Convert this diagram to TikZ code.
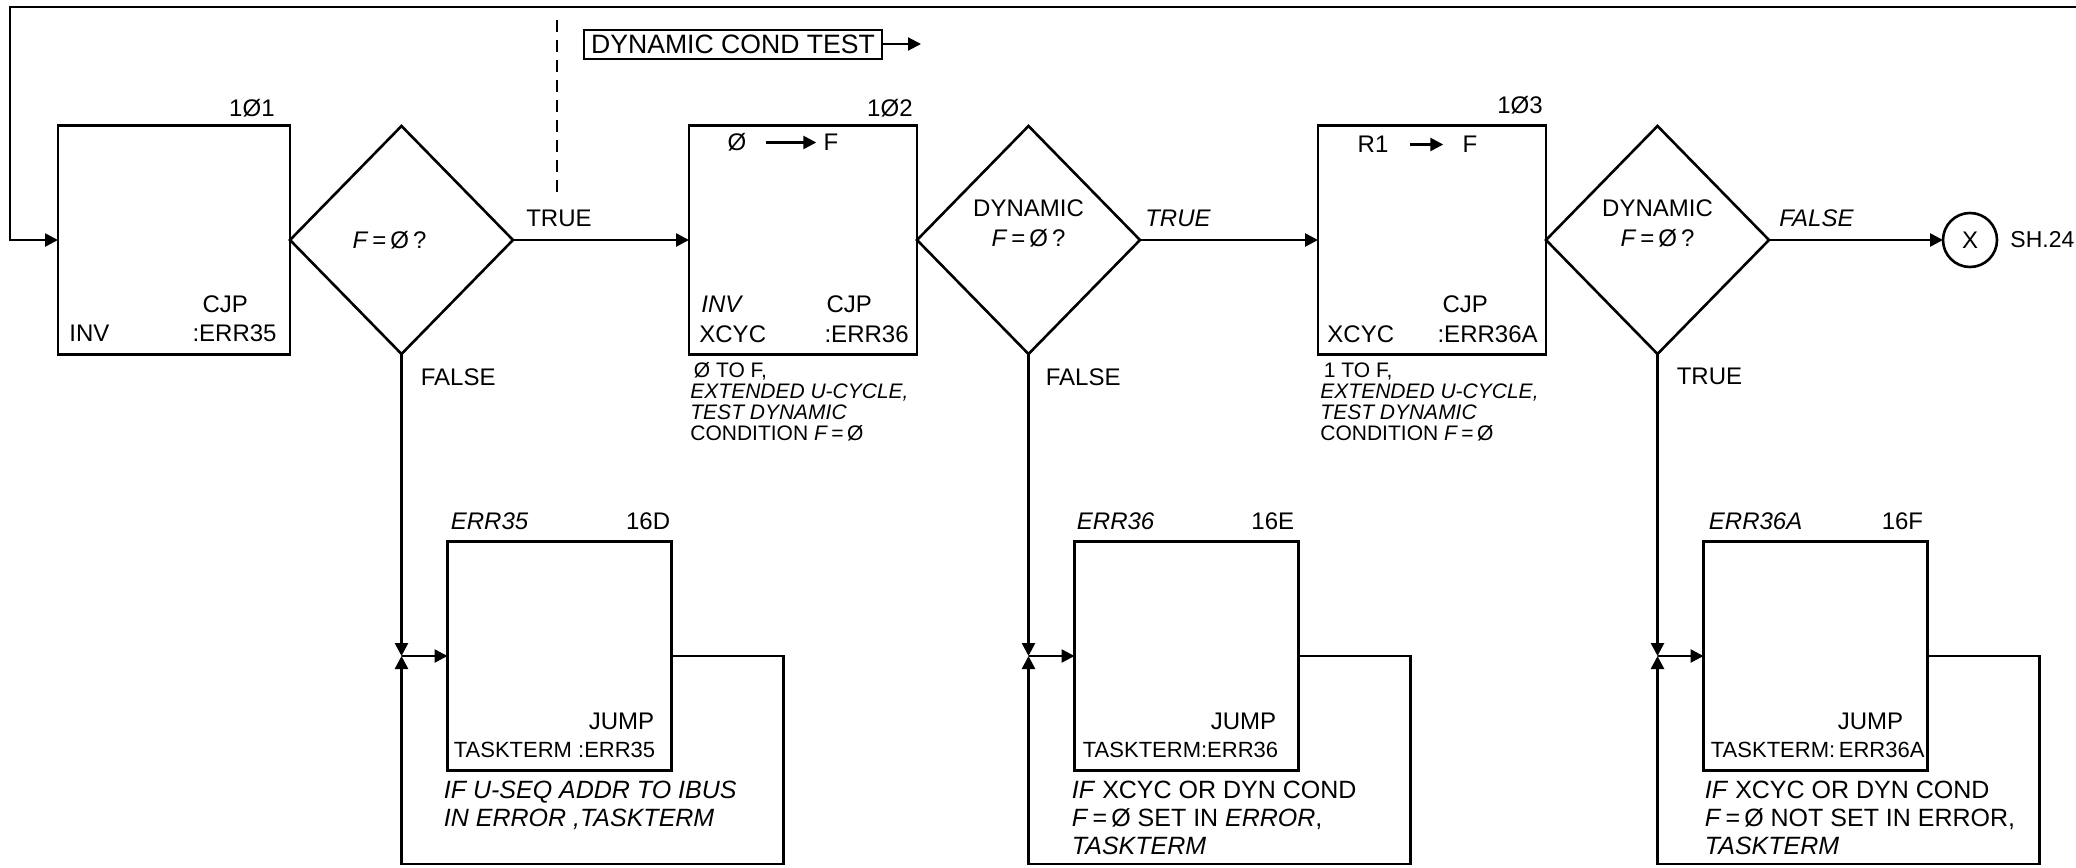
\documentclass[tikz,border=0pt]{standalone}
\usepackage{fontspec}
\setmainfont{Liberation Sans}
\usetikzlibrary{arrows.meta,positioning,calc,shapes.geometric}

\begin{document}
\begin{tikzpicture}[
  x=0.5pt, y=-0.5pt,
  font=\fontsize{12}{13}\selectfont,
  every node/.style={align=center},
  blk/.style={draw, line width=1.3pt, outer sep=0pt, inner sep=0pt,
              minimum width=114pt, minimum height=114.5pt},
  eblk/.style={blk, minimum width=112pt},
  dec/.style={diamond, draw, line width=1.3pt, outer sep=0pt, inner sep=0pt,
              minimum width=111.5pt, minimum height=114pt},
  txt/.style={inner sep=0pt},
  ttxt/.style={txt, font=\fontsize{11}{12}\selectfont},
  note/.style={txt, align=left, font=\fontsize{10.5}{10.5}\selectfont},
  enote/.style={txt, align=left, font=\fontsize{12.5}{14}\selectfont},
  arr/.style={-{Triangle[length=6.5pt, width=6.5pt]}, line width=1.3pt},
]
\useasboundingbox (0,0) rectangle (2076,867);

% main row
\node[blk, minimum width=116pt] (b101) at (174,240) {};
\node[dec, right=0pt of b101] (d1) {};
\node[blk, right=88pt of d1] (b102) {};
\node[dec, right=0pt of b102] (d2) {};
\node[blk, right=89pt of d2] (b103) {};
\node[dec, right=0pt of b103] (d3) {};
\node[circle, draw, line width=1.3pt, outer sep=0pt, inner sep=0pt, minimum size=27pt] (shx) at (1970,240) {X};
\node[txt, right=6.5pt of shx, font=\fontsize{11.5}{12}\selectfont] (sh) {SH.24};

% box 101
\node[txt, anchor=base east] at ($(b101.north east)+(-15,-9)$) {1Ø1};
\node[txt, anchor=base west] at ($(b101.south west)+(11,-13)$) {INV};
\node[txt, anchor=base east] (b101r) at ($(b101.south east)+(-13,-13)$) {:ERR35};
\node[txt, anchor=base west] at ($(b101r.base west)+(10,-29)$) {CJP};

% box 102
\node[txt, anchor=base east] at ($(b102.north east)+(-4,-9)$) {1Ø2};
\node[txt] (b102z) at ($(b102.north west)+(48,17)$) {Ø};
\node[txt] (b102f) at ($(b102.north west)+(142,17)$) {F};
\draw[arr, shorten <=9.5pt, shorten >=3.5pt] (b102z) -- (b102f);
\node[txt, anchor=base west] at ($(b102.south west)+(12,-42)$) {\textit{INV}};
\node[txt, anchor=base west] at ($(b102.south west)+(10,-12)$) {XCYC};
\node[txt, anchor=base east] (b102r) at ($(b102.south east)+(-8,-12)$) {:ERR36};
\node[txt, anchor=base west] at ($(b102r.base west)+(2,-30)$) {CJP};
\node[note, anchor=north west] at ($(b102.south west)+(1,8)$)
  {\,Ø TO F,\\\textit{EXTENDED U-CYCLE,}\\\textit{TEST DYNAMIC}\\CONDITION \textit{F}\,=\,Ø};

% box 103
\node[txt, anchor=base east] at ($(b103.north east)+(-3,-12)$) {1Ø3};
\node[txt] (b103r1) at ($(b103.north west)+(55,19)$) {R1};
\node[txt] (b103f) at ($(b103.north west)+(152,19)$) {F};
\draw[arr, shorten <=10.5pt, shorten >=9.5pt] (b103r1) -- (b103f);
\node[txt, anchor=base west] at ($(b103.south west)+(9,-12)$) {XCYC};
\node[txt, anchor=base east] (b103r) at ($(b103.south east)+(-8,-12)$) {:ERR36A};
\node[txt, anchor=base west] at ($(b103r.base west)+(5,-30)$) {CJP};
\node[note, anchor=north west] at ($(b103.south west)+(2,8)$)
  {\,1 TO F,\\\textit{EXTENDED U-CYCLE,}\\\textit{TEST DYNAMIC}\\CONDITION \textit{F}\,=\,Ø};

% decisions
\node[txt] (d1t) at ($(d1.center)+(-12,0)$) {\textit{F}\,=\,Ø\,?};
\node[txt] (d2t) at ($(d2.center)+(0,-17)$) {DYNAMIC\\[2pt]\textit{F}\,=\,Ø\,?};
\node[txt] (d3t) at ($(d3.center)+(0,-17)$) {DYNAMIC\\[2pt]\textit{F}\,=\,Ø\,?};

% top return path and dynamic test marker
\coordinate (tl) at (10,7);
\coordinate (tr) at (2076,7);
\draw[arr] (tr) -- (tl) |- (b101.west);
\node[draw, line width=1pt, inner xsep=3.5pt, inner ysep=0pt, minimum height=14.5pt,
      font=\fontsize{13.3}{14}\selectfont] (dct) at (733,44) {DYNAMIC COND TEST};
\coordinate (dcte) at (921,44);
\draw[arr, line width=1pt] (dct.east) -- (dcte);
\coordinate (dsh1) at (557,20);
\coordinate (dsh2) at (557,192);
\draw[line width=1pt, dash pattern=on 6pt off 4pt] (dsh1) -- (dsh2);

\draw[arr] (d1.east) -- (b102.west) node[txt, pos=0, above right=6pt and 6pt] {TRUE};
\draw[arr] (d2.east) -- (b103.west) node[txt, pos=0, above right=6pt and 2pt] {\textit{TRUE}};
\draw[arr] (d3.east) -- (shx.west) node[txt, pos=0, above right=6pt and 4.5pt] {\textit{FALSE}};

% error row
\coordinate (row2) at (0,656);
\coordinate (row3) at (0,864);
\coordinate (j1) at (d1.south |- row2);
\coordinate (j2) at (d2.south |- row2);
\coordinate (j3) at (d3.south |- row2);
\node[eblk, right=23pt of j1] (e35) {};
\node[eblk, right=23pt of j2] (e36) {};
\node[eblk, right=23pt of j3] (e36a) {};

\draw[arr] (d1.south) -- (j1) node[txt, pos=0, below right=6.5pt and 9pt] {FALSE};
\draw[arr] (j1) -- (e35.west);
\draw[arr] (e35.east) -- ++(56pt,0) |- (j1 |- row3) -- (j1);
\draw[arr] (d2.south) -- (j2) node[txt, pos=0, below right=6.5pt and 8pt] {FALSE};
\draw[arr] (j2) -- (e36.west);
\draw[arr] (e36.east) -- ++(56pt,0) |- (j2 |- row3) -- (j2);
\draw[arr] (d3.south) -- (j3) node[txt, pos=0, below right=6.5pt and 9pt] {TRUE};
\draw[arr] (j3) -- (e36a.west);
\draw[arr] (e36a.east) -- ++(56pt,0) |- (j3 |- row3) -- (j3);

% ERR35
\node[txt, anchor=base west] at ($(e35.north west)+(3,-12)$) {\textit{ERR35}};
\node[txt, anchor=base east] at ($(e35.north east)+(-1,-12)$) {16D};
\node[txt, anchor=base east] at ($(e35.south east)+(-17,-41)$) {JUMP};
\node[ttxt, anchor=base west] at ($(e35.south west)+(6,-13)$) {TASKTERM :ERR35};
\node[enote, font=\fontsize{12.5}{14}\selectfont\itshape, anchor=north west] at ($(e35.south west)+(-4,10)$)
  {IF U-SEQ ADDR TO IBUS\\IN ERROR ,TASKTERM};

% ERR36
\node[txt, anchor=base west] at ($(e36.north west)+(2,-12)$) {\textit{ERR36}};
\node[txt, anchor=base east] at ($(e36.north east)+(-4,-12)$) {16E};
\node[txt, anchor=base east] at ($(e36.south east)+(-22,-41)$) {JUMP};
\node[ttxt, anchor=base west] at ($(e36.south west)+(8,-13)$) {TASKTERM:ERR36};
\node[enote, anchor=north west] at ($(e36.south west)+(-3,10)$)
  {\textit{IF} XCYC OR DYN COND\\\textit{F}\,=\,Ø SET IN \textit{ERROR},\\\textit{TASKTERM}};

% ERR36A
\node[txt, anchor=base west] at ($(e36a.north west)+(5,-12)$) {\textit{ERR36A}};
\node[txt, anchor=base east] at ($(e36a.north east)+(-4,-12)$) {16F};
\node[txt, anchor=base east] at ($(e36a.south east)+(-24,-41)$) {JUMP};
\node[ttxt, anchor=base west] at ($(e36a.south west)+(7,-13)$) {TASKTERM:\,ERR36A};
\node[enote, anchor=north west] at ($(e36a.south west)+(1,10)$)
  {\textit{IF} XCYC OR DYN COND\\\textit{F}\,=\,Ø NOT SET IN ERROR,\\\textit{TASKTERM}};
\end{tikzpicture}
\end{document}
